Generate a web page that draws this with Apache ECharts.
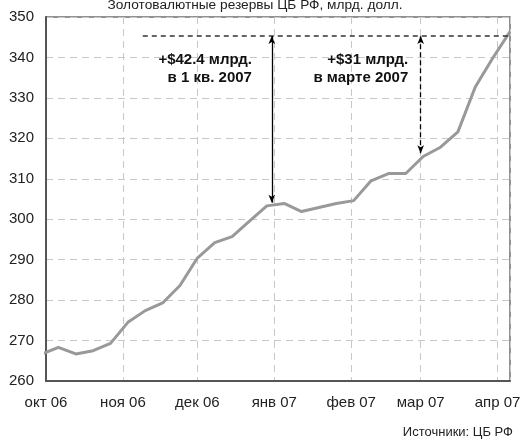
<!DOCTYPE html>
<html>
<head>
<meta charset="utf-8">
<script src="https://cdn.jsdelivr.net/npm/echarts@6/dist/echarts.min.js"></script>
<style>
html,body{margin:0;padding:0;background:#fff;}
#c{width:521px;height:442px;}
</style>
</head>
<body>
<div id="c"></div>
<script>
// ---- data ----
const dates = ['2006-09-29','2006-10-06','2006-10-13','2006-10-20','2006-10-27','2006-11-03','2006-11-10','2006-11-17','2006-11-24','2006-12-01','2006-12-08','2006-12-15','2006-12-22','2006-12-29','2007-01-05','2007-01-12','2007-01-19','2007-01-26','2007-02-02','2007-02-09','2007-02-16','2007-02-23','2007-03-02','2007-03-09','2007-03-16','2007-03-23','2007-03-30','2007-04-06'];
const reserves = [266.6,268.3,266.7,267.5,269.3,274.5,277.4,279.3,283.6,290.4,294.2,295.7,299.5,303.3,303.9,301.9,302.9,303.9,304.6,309.5,311.3,311.3,315.5,317.8,321.6,332.7,339.8,346.4];
const monthStarts = ['2006-10-01','2006-11-01','2006-12-01','2007-01-01','2007-02-01','2007-03-01','2007-04-01'];
const monthLabels = ['окт 06','ноя 06','дек 06','янв 07','фев 07','мар 07','апр 07'];
const yTicks = [260,270,280,290,300,310,320,330,340,350];
const xRange = ['2006-10-01','2007-04-06'];
const titleText = 'Золотовалютные резервы ЦБ РФ, млрд. долл.';
const sourceText = 'Источники: ЦБ РФ';
// annotations
const targetLevel = 345.3;
const levelLineStart = '2006-11-09';
const q1Arrow = {date:'2006-12-31', from:304.1};
const marchArrow = {date:'2007-03-01', from:316.3};
const q1Text = ['+$42.4 млрд.','в 1 кв. 2007'];
const q1TextAnchor = ['2006-12-23', 337.1];
const marchText = ['+$31 млрд.','в марте 2007'];
const marchTextAnchor = ['2007-02-24', 337.1];

function t(s){const p=s.split('-').map(Number);return new Date(p[0],p[1]-1,p[2]).getTime();}
const FONT = '"Liberation Sans", Arial, sans-serif';

const chart = echarts.init(document.getElementById('c'), null, {renderer:'canvas'});
const monthTs = monthStarts.map(t);

chart.setOption({
  animation:false,
  backgroundColor:'#fff',
  title:{
    text:titleText, left:250, top:-7, textAlign:'center',
    textStyle:{fontFamily:FONT,fontSize:13.7,fontWeight:'normal',color:'#222'}
  },
  graphic:[{
    type:'text', right:8, top:426,
    style:{text:sourceText, font:'13px '+FONT, fill:'#222'}
  }],
  grid:{left:46,right:11,top:17,bottom:61,show:true,outerBoundsMode:'none',containLabel:false,
    borderColor:'#6e6e6e',borderWidth:1.5,backgroundColor:'transparent'},
  xAxis:{
    type:'time', min:t(xRange[0]), max:t(xRange[1]),
    minInterval:28*864e5, maxInterval:31*864e5,
    axisLine:{show:true,lineStyle:{color:'#555',width:2}},
    axisTick:{show:false},
    splitLine:{show:true,lineStyle:{color:'#c8c8c8',width:1,type:[7,5]}},
    axisLabel:{
      fontFamily:FONT,fontSize:15,color:'#222',margin:14,
      hideOverlap:false,
      formatter:function(v){
        const d=new Date(v);
        for(let i=0;i<monthTs.length;i++){const m=new Date(monthTs[i]);if(m.getFullYear()===d.getFullYear()&&m.getMonth()===d.getMonth()&&d.getDate()===1)return monthLabels[i];}
        return '';
      }
    }
  },
  yAxis:{
    type:'value', min:yTicks[0], max:yTicks[yTicks.length-1], interval:10,
    axisLine:{show:true,lineStyle:{color:'#555',width:2}},
    axisTick:{show:false},
    splitLine:{show:true,lineStyle:{color:'#c8c8c8',width:1,type:[7,5]}},
    axisLabel:{fontFamily:FONT,fontSize:15,color:'#222',margin:12}
  },
  series:[{
    type:'line',
    data:dates.map((d,i)=>[t(d),reserves[i]]),
    showSymbol:false, symbol:'none', clip:true,
    lineStyle:{color:'#999',width:3},
    markLine:{
      silent:true, animation:false,
      label:{show:false},
      data:[
        [{coord:[t(levelLineStart),targetLevel],symbol:'none',lineStyle:{color:'#333',width:1.5,type:[5,4]}},
         {coord:[t(xRange[1]),targetLevel],symbol:'none'}],
        [{coord:[t(q1Arrow.date),q1Arrow.from],symbol:'arrow',symbolSize:[5,8],lineStyle:{color:'#000',width:1.3,type:'solid'}},
         {coord:[t(q1Arrow.date),targetLevel],symbol:'arrow',symbolSize:[5,8]}],
        [{coord:[t(marchArrow.date),marchArrow.from],symbol:'arrow',symbolSize:[5,8],lineStyle:{color:'#000',width:1.3,type:[5,3]}},
         {coord:[t(marchArrow.date),targetLevel],symbol:'arrow',symbolSize:[5,8]}]
      ]
    },
    markPoint:{
      silent:true, animation:false,
      symbol:'circle', symbolSize:0,
      label:{show:true,position:'inside',align:'right',verticalAlign:'middle',
        fontFamily:FONT,fontSize:15,fontWeight:'bold',color:'#111',lineHeight:18},
      data:[
        {coord:[t(q1TextAnchor[0]),q1TextAnchor[1]],label:{formatter:q1Text.join('\n')}},
        {coord:[t(marchTextAnchor[0]),marchTextAnchor[1]],label:{formatter:marchText.join('\n')}}
      ]
    }
  }]
});
</script>
</body>
</html>
